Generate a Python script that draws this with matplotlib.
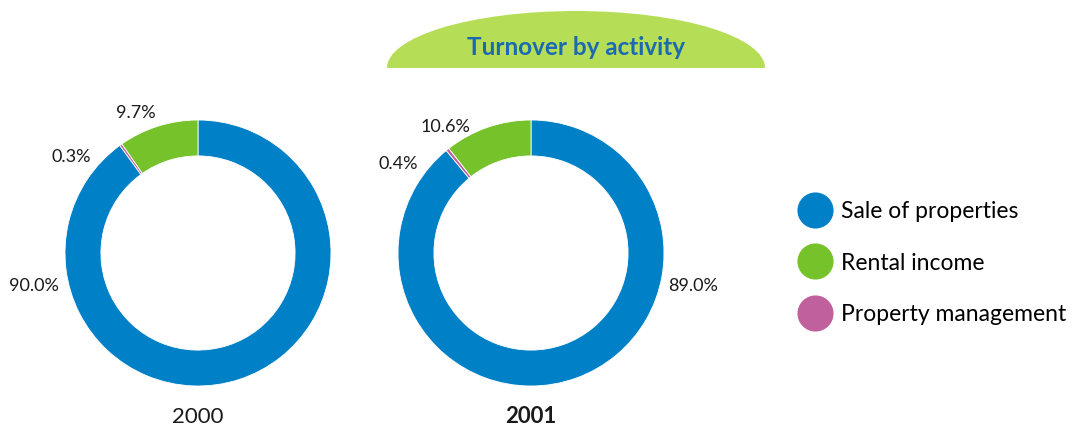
import numpy as np
import matplotlib
matplotlib.use('Agg')
import matplotlib.pyplot as plt
from matplotlib.patches import Ellipse
from matplotlib.lines import Line2D

plt.rcParams['font.family']=['Lato','DejaVu Sans']

# data
categories=['Sale of properties','Rental income','Property management']
years=['2000','2001']
shares_2000=[90.0,9.7,0.3]
shares_2001=[89.0,10.6,0.4]
colors=['#0080C6','#76C22A','#C0609C']

W,H=1084,430
fig=plt.figure(figsize=(W/100,H/100),dpi=100)

def px_axes(x0,y0,x1,y1):
    # pixel box (from top-left) -> figure axes
    return fig.add_axes([x0/W,1-y1/H,(x1-x0)/W,(y1-y0)/H])

# label anchors in donut units (order: sale, rental, management)
label_pos={
    '2000':[(-1.23,-0.25),(-0.47,1.05),(-0.95,0.72)],
    '2001':[(1.22,-0.25),(-0.64,0.95),(-1.0,0.67)],
}
centers={'2000':(198,253),'2001':(531,253)}
R=133

for year,vals in zip(years,[shares_2000,shares_2001]):
    cx,cy=centers[year]
    ax=px_axes(cx-R,cy-R,cx+R,cy+R)
    # order drawn clockwise from top: sale, management, rental
    order=[0,2,1]
    ax.pie([vals[i] for i in order],colors=[colors[i] for i in order],
           startangle=90,counterclock=False,radius=1,
           wedgeprops=dict(width=0.27,edgecolor='white',linewidth=0.6))
    ax.set_xlim(-1,1)
    ax.set_ylim(-1,1)
    ax.set_aspect('equal')
    ax.axis('off')
    for v,(lx,ly) in zip(vals,label_pos[year]):
        ax.text(lx,ly,f'{v:.1f}%',ha='center',va='center',fontsize=13,
                color='#1a1a1a',clip_on=False)
    ax.text(0,-1.23,year,ha='center',va='center',fontsize=16,color='#1a1a1a',
            fontweight='bold' if year=='2001' else 'normal',clip_on=False)

# title badge
tax=px_axes(387,11,765,68)
tax.add_patch(Ellipse((0.5,0),1,2,facecolor='#B5DE56',edgecolor='none'))
tax.set_xlim(0,1)
tax.set_ylim(0,1)
tax.axis('off')
tax.text(0.5,0.36,'Turnover by activity',ha='center',va='center',fontsize=17.5,
         fontweight='bold',color='#1B6AB0')

handles=[Line2D([],[],marker='o',linestyle='none',markersize=26,
                markerfacecolor=c,markeredgecolor='none') for c in colors]
fig.legend(handles,categories,loc='center left',bbox_to_anchor=(792/W,1-263/H),
           frameon=False,fontsize=16.5,labelspacing=1.32,handletextpad=0.55,
           borderaxespad=0,handlelength=1.2)

plt.savefig('out.png',dpi=100)
